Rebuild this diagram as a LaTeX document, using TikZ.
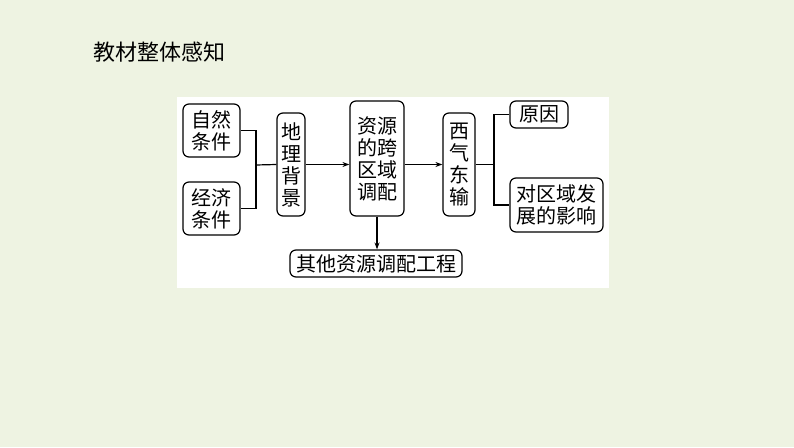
\documentclass[tikz,border=0pt]{standalone}
\usepackage{fontspec}
\setmainfont{Noto Sans CJK SC}
\usetikzlibrary{arrows.meta}
\definecolor{bgcol}{RGB}{238,243,226}
\begin{document}
\begin{tikzpicture}[x=1pt,y=-1pt, every node/.style={font=\fontsize{20}{22}\selectfont},
  box/.style={draw,line width=1.2pt,rounded corners=6pt,inner sep=0pt,align=center},
  link/.style={line width=1.2pt},
  arr/.style={line width=1.2pt,-{Stealth[length=7pt,width=5pt]}}]
\useasboundingbox (0,0) rectangle (794,447);
\fill[bgcol] (0,0) rectangle (794,447);
\fill[white] (177,97) rectangle (609,288);
\node[font=\fontsize{22}{24}\selectfont] (title) at (159,52) {教材整体感知};
% left column
\node[box,minimum width=57pt,minimum height=53pt] (ziran) at (211.5,130.5) {自然\\条件};
\node[box,minimum width=57pt,minimum height=53pt] (jingji) at (211.5,208.5) {经济\\条件};
\node[box,minimum width=28pt,minimum height=103pt] (dili) at (291,164.5) {地\\理\\背\\景};
\node[box,minimum width=54pt,minimum height=115pt] (ziyuan) at (377,158.5) {资源\\的跨\\区域\\调配};
\node[box,minimum width=32pt,minimum height=103pt] (xiqi) at (459,164.5) {西\\气\\东\\输};
% right column
\node[box,minimum width=58pt,minimum height=27pt] (yuanyin) at (539,114.5) {原因};
\node[box,minimum width=93pt,minimum height=54pt] (yingxiang) at (556.5,205) {对区域发\\展的影响};
\node[box,minimum width=172pt,minimum height=27pt] (qita) at (376,263.5) {其他资源调配工程};
\coordinate (j1) at (256,165);
\coordinate (j2) at (494,164.5);
\draw[link] (ziran.east) -| (j1) |- (jingji.east);
\draw[link] (j1) -- (dili.west);
\draw[arr] (dili.east) -- (dili.east -| ziyuan.west);
\draw[arr] (ziyuan.east |- xiqi.west) -- (xiqi.west);
\draw[link] (xiqi.east) -- (j2);
\draw[link] (yuanyin.west) -| (j2) |- (yingxiang.west);
\draw[arr] (ziyuan.south) -- (ziyuan.south |- qita.north);
\end{tikzpicture}
\end{document}
